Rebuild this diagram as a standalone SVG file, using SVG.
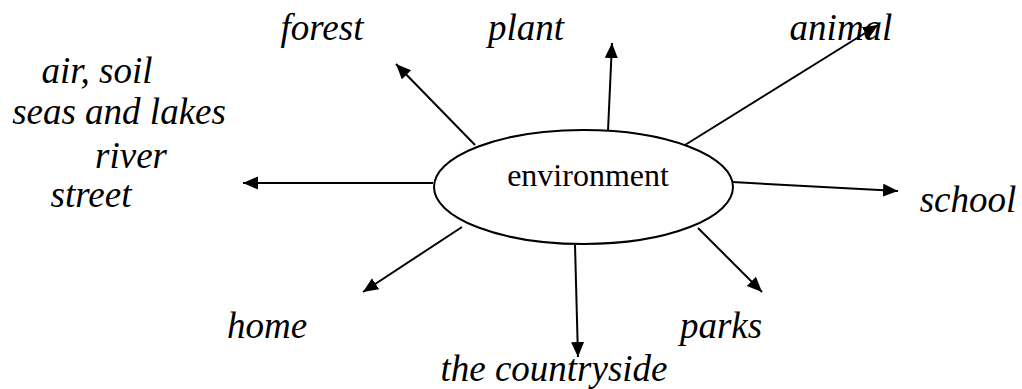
<svg xmlns="http://www.w3.org/2000/svg" width="1022" height="389" viewBox="0 0 1022 389">
<style>
.lbl{font-family:"Liberation Serif","Times New Roman",serif;font-style:italic;font-size:37px;fill:#000;text-anchor:middle}
.ctr{font-family:"Liberation Serif","Times New Roman",serif;font-size:32px;fill:#000;text-anchor:middle}
.con{stroke:#000;stroke-width:2;fill:none;marker-end:url(#ah)}
</style>
<defs>
<marker id="ah" markerUnits="userSpaceOnUse" markerWidth="16" markerHeight="14" refX="15" refY="6.5" orient="auto">
<path d="M0,0 L15,6.5 L0,13 z" fill="#000"/>
</marker>
</defs>
<rect width="1022" height="389" fill="#fff"/>
<g id="connectors">
<line class="con" x1="475" y1="145" x2="396" y2="64"/>
<line class="con" x1="608" y1="131" x2="612" y2="43"/>
<line class="con" x1="685" y1="145" x2="878" y2="25"/>
<line class="con" x1="433" y1="183" x2="243" y2="183"/>
<line class="con" x1="732" y1="182" x2="898" y2="191"/>
<line class="con" x1="462" y1="227" x2="363" y2="292"/>
<line class="con" x1="575" y1="245" x2="578" y2="357"/>
<line class="con" x1="698" y1="228" x2="762" y2="292"/>
</g>
<g id="environment">
<ellipse cx="583.5" cy="187" rx="149.5" ry="57" fill="#fff" stroke="#000" stroke-width="2"/>
<text class="ctr" x="588" y="186">environment</text>
</g>
<g id="forest"><text class="lbl" x="322" y="40">forest</text></g>
<g id="plant"><text class="lbl" x="526" y="40">plant</text></g>
<g id="animal"><text class="lbl" x="841" y="40">animal</text></g>
<g id="left-list">
<text class="lbl" x="97" y="83">air, soil</text>
<text class="lbl" x="119" y="124">seas and lakes</text>
<text class="lbl" x="131" y="168">river</text>
<text class="lbl" x="91" y="207">street</text>
</g>
<g id="school"><text class="lbl" x="968" y="212">school</text></g>
<g id="home"><text class="lbl" x="267" y="338">home</text></g>
<g id="parks"><text class="lbl" x="721" y="338">parks</text></g>
<g id="countryside"><text class="lbl" x="554" y="381">the countryside</text></g>
</svg>
